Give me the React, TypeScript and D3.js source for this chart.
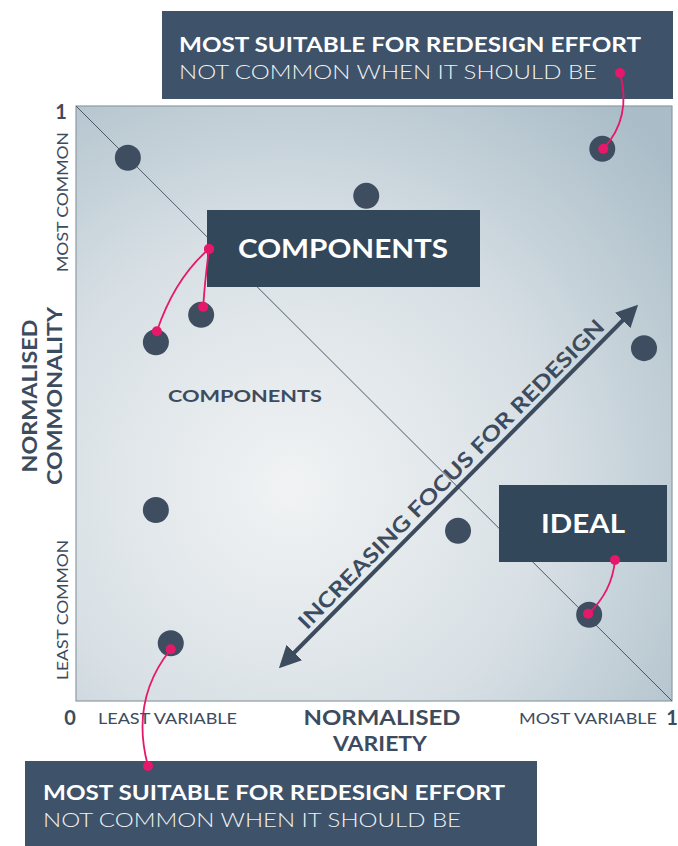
import React from "react";
import * as d3 from "d3";

// normalised variety (x) and commonality (y) of each part
const varietyValues = [0.087, 0.487, 0.21, 0.134, 0.883, 0.953, 0.134, 0.641, 0.861, 0.159];
const commonalityValues = [0.913, 0.849, 0.649, 0.603, 0.928, 0.593, 0.321, 0.286, 0.145, 0.097];

const xTickLabels = ["LEAST VARIABLE", "MOST VARIABLE"];
const yTickLabels = ["LEAST COMMON", "MOST COMMON"];

const W = 678;
const H = 846;
const FONT = "Lato, 'Open Sans', sans-serif";
const INK = "#3d4b5e";
const PINK = "#e6186a";

const App = () => {
  const x = d3.scaleLinear().domain([0, 1]).range([76, 672]);
  const y = d3.scaleLinear().domain([0, 1]).range([701, 106]);
  const pts = varietyValues.map((v, i) => [x(v), y(commonalityValues[i])]);

  const curve = (a, b, c) => {
    const p = d3.path();
    p.moveTo(a[0], a[1]);
    p.quadraticCurveTo(c[0], c[1], b[0], b[1]);
    return p.toString();
  };

  // connectors: label dot -> point
  const links = [
    { from: [620, 73], to: [pts[4][0] + 1, pts[4][1]], ctrl: [632, 118] },
    { from: [209, 249], to: [pts[3][0] + 1, pts[3][1] - 11], ctrl: [175, 278] },
    { from: [209, 249], to: [pts[2][0] + 2, pts[2][1] - 8], ctrl: [205, 280] },
    { from: [615, 560], to: [pts[8][0] - 1, pts[8][1] - 1], ctrl: [612, 592] },
    { from: [148, 766], to: [pts[9][0], pts[9][1] + 6], ctrl: [130, 700] },
  ];

  const a1 = [282, 665];
  const a2 = [635, 308];
  const ang = (Math.atan2(a2[1] - a1[1], a2[0] - a1[0]) * 180) / Math.PI;

  return (
    <svg width={W} height={H} style={{ position: "absolute", left: 0, top: 0, background: "#fff" }}>
      <defs>
        <radialGradient id="bg" cx="0.36" cy="0.64" r="0.85">
          <stop offset="0" stopColor="#f1f3f4" />
          <stop offset="0.5" stopColor="#d8e0e5" />
          <stop offset="1" stopColor="#a9bcc7" />
        </radialGradient>
        <marker id="head" viewBox="0 0 10 10" refX="8" refY="5" markerWidth="5.5" markerHeight="5.5" orient="auto-start-reverse">
          <path d="M0,0 L10,5 L0,10 z" fill={INK} />
        </marker>
      </defs>

      {/* plot area */}
      <rect x={x(0)} y={y(1)} width={x(1) - x(0)} height={y(0) - y(1)} fill="url(#bg)" stroke="#8c9ba6" strokeWidth={1.2} />
      <line x1={x(0)} y1={y(1)} x2={x(1)} y2={y(0)} stroke="#4a5866" strokeWidth={1} />

      {/* top box */}
      <rect x={162} y={11} width={511} height={88} fill="#3e5269" />
      <text x={179} y={52} fill="#fff" fontFamily={FONT} fontWeight={700} fontSize={21} textLength={462} lengthAdjust="spacingAndGlyphs">MOST SUITABLE FOR REDESIGN EFFORT</text>
      <text x={179} y={79} fill="#f1f3f5" fontFamily={FONT} fontWeight={300} fontSize={20} textLength={418} lengthAdjust="spacingAndGlyphs">NOT COMMON WHEN IT SHOULD BE</text>

      {/* bottom box */}
      <rect x={25} y={761} width={512} height={90} fill="#3e5269" />
      <text x={43} y={800} fill="#fff" fontFamily={FONT} fontWeight={700} fontSize={21} textLength={462} lengthAdjust="spacingAndGlyphs">MOST SUITABLE FOR REDESIGN EFFORT</text>
      <text x={43} y={827} fill="#f1f3f5" fontFamily={FONT} fontWeight={300} fontSize={20} textLength={418} lengthAdjust="spacingAndGlyphs">NOT COMMON WHEN IT SHOULD BE</text>

      {/* points */}
      {pts.map((p, i) => (
        <circle key={i} cx={p[0]} cy={p[1]} r={13} fill="#3f4d61" />
      ))}

      {/* components box */}
      <rect x={207} y={210} width={273} height={77} fill="#33475a" />
      <text x={343} y={258} textAnchor="middle" fill="#fff" fontFamily={FONT} fontWeight={700} fontSize={26} textLength={210} lengthAdjust="spacingAndGlyphs">COMPONENTS</text>
      <text x={168} y={402} fill={INK} fontFamily={FONT} fontWeight={700} fontSize={17} textLength={154} lengthAdjust="spacingAndGlyphs">COMPONENTS</text>

      {/* ideal box */}
      <rect x={499} y={485} width={168} height={77} fill="#33475a" />
      <text x={583} y={533} textAnchor="middle" fill="#fff" fontFamily={FONT} fontWeight={700} fontSize={26} textLength={84} lengthAdjust="spacingAndGlyphs">IDEAL</text>

      {/* arrow */}
      <line x1={a1[0]} y1={a1[1]} x2={a2[0]} y2={a2[1]} stroke={INK} strokeWidth={4} markerStart="url(#head)" markerEnd="url(#head)" />
      <g transform={`translate(451,474) rotate(${ang})`}>
        <text x={0} y={0} dy="0.36em" textAnchor="middle" fill={INK} fontFamily={FONT} fontWeight={700} fontSize={21} textLength={425} lengthAdjust="spacingAndGlyphs">INCREASING FOCUS FOR REDESIGN</text>
      </g>

      {/* connectors */}
      {links.map((l, i) => (
        <g key={i}>
          <path d={curve(l.from, l.to, l.ctrl)} fill="none" stroke={PINK} strokeWidth={1.8} />
          <circle cx={l.from[0]} cy={l.from[1]} r={5} fill={PINK} />
          <circle cx={l.to[0]} cy={l.to[1]} r={5} fill={PINK} />
        </g>
      ))}

      {/* axis ends */}
      <text x={70} y={725} textAnchor="middle" fill={INK} fontFamily={FONT} fontWeight={700} fontSize={20}>0</text>
      <text x={672} y={725} textAnchor="middle" fill={INK} fontFamily={FONT} fontWeight={700} fontSize={20}>1</text>
      <text x={61} y={119} textAnchor="middle" fill={INK} fontFamily={FONT} fontWeight={700} fontSize={20}>1</text>

      {/* x axis labels */}
      <text x={98} y={724} fill={INK} fontFamily={FONT} fontWeight={400} fontSize={16} textLength={139} lengthAdjust="spacingAndGlyphs">{xTickLabels[0]}</text>
      <text x={519} y={724} fill={INK} fontFamily={FONT} fontWeight={400} fontSize={16} textLength={138} lengthAdjust="spacingAndGlyphs">{xTickLabels[1]}</text>
      <text x={382} y={725} textAnchor="middle" fill={INK} fontFamily={FONT} fontWeight={700} fontSize={20} textLength={157} lengthAdjust="spacingAndGlyphs">NORMALISED</text>
      <text x={380} y={751} textAnchor="middle" fill={INK} fontFamily={FONT} fontWeight={700} fontSize={20} textLength={94} lengthAdjust="spacingAndGlyphs">VARIETY</text>

      {/* y axis labels */}
      <text transform="translate(68,610) rotate(-90)" textAnchor="middle" fill={INK} fontFamily={FONT} fontWeight={400} fontSize={16} textLength={140} lengthAdjust="spacingAndGlyphs">{yTickLabels[0]}</text>
      <text transform="translate(68,202) rotate(-90)" textAnchor="middle" fill={INK} fontFamily={FONT} fontWeight={400} fontSize={16} textLength={140} lengthAdjust="spacingAndGlyphs">{yTickLabels[1]}</text>
      <text transform="translate(37,396) rotate(-90)" textAnchor="middle" fill={INK} fontFamily={FONT} fontWeight={700} fontSize={21} textLength={153} lengthAdjust="spacingAndGlyphs">NORMALISED</text>
      <text transform="translate(62,396) rotate(-90)" textAnchor="middle" fill={INK} fontFamily={FONT} fontWeight={700} fontSize={21} textLength={178} lengthAdjust="spacingAndGlyphs">COMMONALITY</text>
    </svg>
  );
};

export default App;
